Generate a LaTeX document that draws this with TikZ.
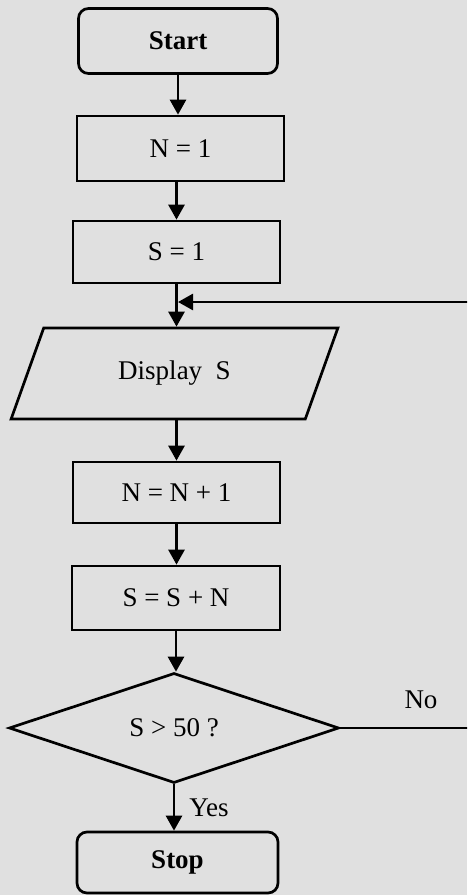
\documentclass[tikz,border=0pt]{standalone}
\usepackage{fontspec}
\setmainfont{Liberation Serif}
\usetikzlibrary{arrows.meta,shapes.geometric}
\definecolor{bgc}{RGB}{224,224,224}
\tikzset{
  base/.style={draw=black, line width=2.7pt, inner sep=0pt, font=\fontsize{27}{31}\selectfont},
  term/.style={base, rounded corners=10pt},
  proc/.style={base},
  io/.style={base, trapezium, trapezium left angle=60.3, trapezium right angle=119.7, trapezium stretches=true},
  decision/.style={base, diamond},
  arr/.style={line width=2.7pt, -{Triangle[length=15pt,width=16pt]}},
  lbl/.style={font=\fontsize{27}{31}\selectfont, inner sep=0pt}
}
\begin{document}
\begin{tikzpicture}[x=1pt,y=-1pt]
\fill[bgc] (0,0) rectangle (467,895);
\useasboundingbox (0,0) rectangle (467,895);
\clip (0,0) rectangle (467,895);

\node[term, minimum width=199pt, minimum height=65pt] (start) at (178,41) {\textbf{Start}};
\node[proc, minimum width=207pt, minimum height=65pt] (n1) at (180.5,148.5) {N = 1};
\node[proc, minimum width=207pt, minimum height=62pt] (s1) at (176.5,252) {S = 1};
\node[io, minimum width=327pt, minimum height=91pt] (disp) at (174.5,373.5) {Display\ \ S};
\node[proc, minimum width=207pt, minimum height=61pt] (inc) at (176.5,492.5) {N = N + 1};
\node[proc, minimum width=208pt, minimum height=64pt] (sum) at (176,598) {S = S + N};
\node[decision, minimum width=330pt, minimum height=110pt] (dec) at (174,728) {S > 50 ?};
\node[term, minimum width=201pt, minimum height=61pt] (stop) at (177.5,862.5) {\textbf{Stop}};

\node[lbl] (no) at (421,700) {No};
\node[lbl] (yes) at (209,808) {Yes};

\coordinate (loopR) at (485,302);
\coordinate (merge) at (178,302);

\draw[arr] (start.south) -- (start.south |- n1.north);
\draw[arr] (n1.south -| s1.north) -- (s1.north);
\draw[arr] (s1.south) -- (s1.south |- disp.north);
\draw[arr] (s1.south |- disp.south) -- (inc.north);
\draw[arr] (inc.south) -- (inc.south |- sum.north);
\draw[arr] (sum.south) -- (sum.south |- dec.north);
\draw[arr] (dec.south) -- (dec.south |- stop.north);
\draw[arr] (dec.east) -| (loopR) -- (merge);
\end{tikzpicture}
\end{document}
